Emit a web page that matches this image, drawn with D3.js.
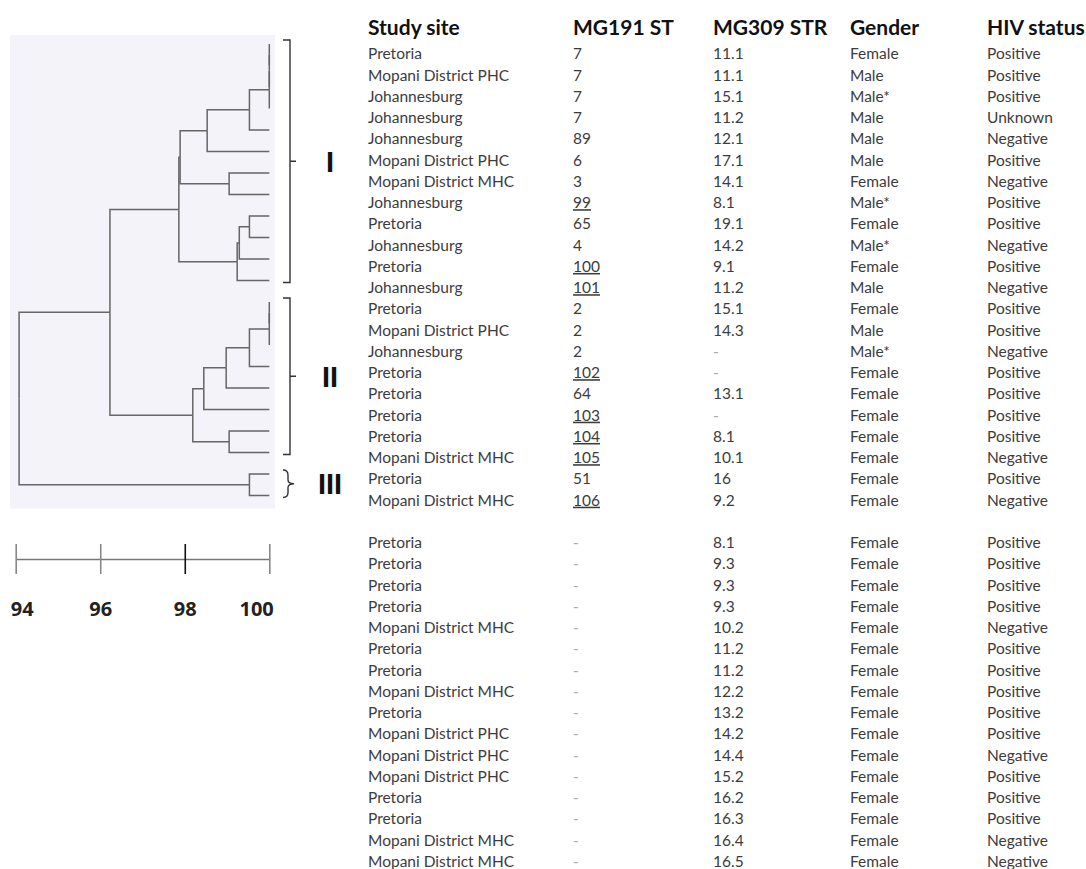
<!DOCTYPE html>
<html>
<head>
<meta charset="utf-8">
<script src="https://cdn.jsdelivr.net/npm/d3@7"></script>
<style>
  body { margin: 0; background: #fff; }
  text { font-family: Lato, "Open Sans", sans-serif; }
</style>
</head>
<body>
<div id="chart"></div>
<script>
// table columns
const headers = ["Study site", "MG191 ST", "MG309 STR", "Gender", "HIV status"];

// first 22 rows are the typed isolates (in the tree), the rest below a blank line
const studySite = [
  "Pretoria", "Mopani District PHC", "Johannesburg", "Johannesburg", "Johannesburg",
  "Mopani District PHC", "Mopani District MHC", "Johannesburg", "Pretoria", "Johannesburg",
  "Pretoria", "Johannesburg", "Pretoria", "Mopani District PHC", "Johannesburg",
  "Pretoria", "Pretoria", "Pretoria", "Pretoria", "Mopani District MHC",
  "Pretoria", "Mopani District MHC",
  "Pretoria", "Pretoria", "Pretoria", "Pretoria", "Mopani District MHC",
  "Pretoria", "Pretoria", "Mopani District MHC", "Pretoria", "Mopani District PHC",
  "Mopani District PHC", "Mopani District PHC", "Pretoria", "Pretoria",
  "Mopani District MHC", "Mopani District MHC"
];
const mg191ST = [
  "7", "7", "7", "7", "89", "6", "3", "99", "65", "4", "100", "101",
  "2", "2", "2", "102", "64", "103", "104", "105", "51", "106",
  "-", "-", "-", "-", "-", "-", "-", "-", "-", "-", "-", "-", "-", "-", "-", "-"
];
const mg309STR = [
  "11.1", "11.1", "15.1", "11.2", "12.1", "17.1", "14.1", "8.1", "19.1", "14.2", "9.1", "11.2",
  "15.1", "14.3", "-", "-", "13.1", "-", "8.1", "10.1", "16", "9.2",
  "8.1", "9.3", "9.3", "9.3", "10.2", "11.2", "11.2", "12.2", "13.2", "14.2",
  "14.4", "15.2", "16.2", "16.3", "16.4", "16.5"
];
const gender = [
  "Female", "Male", "Male*", "Male", "Male", "Male", "Female", "Male*", "Female", "Male*",
  "Female", "Male", "Female", "Male", "Male*", "Female", "Female", "Female", "Female",
  "Female", "Female", "Female",
  "Female", "Female", "Female", "Female", "Female", "Female", "Female", "Female",
  "Female", "Female", "Female", "Female", "Female", "Female", "Female", "Female"
];
const hivStatus = [
  "Positive", "Positive", "Positive", "Unknown", "Negative", "Positive", "Negative", "Positive",
  "Positive", "Negative", "Positive", "Negative", "Positive", "Positive", "Negative", "Positive",
  "Positive", "Positive", "Positive", "Negative", "Positive", "Negative",
  "Positive", "Positive", "Positive", "Positive", "Negative", "Positive", "Positive", "Positive",
  "Positive", "Positive", "Negative", "Positive", "Positive", "Positive", "Negative", "Negative"
];
const novelST = ["99", "100", "101", "102", "103", "104", "105", "106"];
const treeRows = 22;

// dendrogram as merges: [left node, right node, similarity %]; new nodes get ids 22, 23, ...
const merges = [
  [0, 1, 100], [22, 2, 100], [23, 3, 100], [24, 4, 99.53], [25, 5, 98.53],
  [6, 7, 99.05], [26, 27, 97.89], [8, 9, 99.53], [29, 10, 99.29], [30, 11, 99.24],
  [28, 31, 97.86],
  [12, 13, 100], [33, 14, 100], [34, 15, 99.53], [35, 16, 98.98], [36, 17, 98.45],
  [18, 19, 99.05], [37, 38, 98.19],
  [32, 39, 96.23], [20, 21, 99.53], [40, 41, 94.08]
];
const clusterNames = ["I", "II", "III"];
const clusterFirst = [0, 12, 20];
const clusterLast = [11, 19, 21];
const scaleTicks = [94, 96, 98, 100];

const width = 1086, height = 869;
const svg = d3.select("#chart").append("svg")
  .attr("width", width)
  .attr("height", height);

// ---- tree ----
let nodes = [];
for (let i = 0; i < treeRows; i++) nodes.push({ id: i, sim: 100 });
merges.forEach((m, k) => {
  nodes.push({ id: treeRows + k, sim: m[2], children: [nodes[m[0]], nodes[m[1]]] });
});
let root = d3.hierarchy(nodes[nodes.length - 1]);
let leafGap = 21.5;
d3.cluster().nodeSize([leafGap, 1]).separation(() => 1)(root);
let leaves = root.leaves();
let shift = 44 - leaves[0].x;
root.each(d => { d.vy = d.x + shift; });

let x = d3.scaleLinear().domain([94, 100]).range([15.7, 269.3]);

svg.append("rect")
  .attr("x", 10).attr("y", leaves[0].vy - 9)
  .attr("width", 265)
  .attr("height", leaves[leaves.length - 1].vy - leaves[0].vy + 22)
  .attr("fill", "#f3f3f9");

svg.append("g")
  .selectAll("path")
  .data(root.links())
  .join("path")
  .attr("fill", "none")
  .attr("stroke", "#666")
  .attr("stroke-width", 1.5)
  .attr("d", l => "M" + x(l.source.data.sim) + "," + l.source.vy +
                  "V" + l.target.vy + "H" + x(l.target.data.sim));

// cluster brackets
let bx = 290;
clusterNames.forEach((name, c) => {
  let top = leaves[clusterFirst[c]].vy - 4;
  let bot = leaves[clusterLast[c]].vy + 2;
  let mid = (top + bot) / 2;
  let g = svg.append("g");
  if (c < 2) {
    g.append("path")
      .attr("fill", "none").attr("stroke", "#333").attr("stroke-width", 1.4)
      .attr("d", "M" + (bx - 7) + "," + top + "H" + bx + "V" + bot + "H" + (bx - 7) +
                 "M" + bx + "," + mid + "H" + (bx + 6));
  } else {
    g.append("path")
      .attr("fill", "none").attr("stroke", "#333").attr("stroke-width", 1.4)
      .attr("d", "M" + (bx - 7) + "," + top + "Q" + (bx - 2) + "," + top + " " + (bx - 2) + "," + (top + 5) +
                 "V" + (mid - 4) + "Q" + (bx - 2) + "," + mid + " " + (bx + 4) + "," + mid +
                 "Q" + (bx - 2) + "," + mid + " " + (bx - 2) + "," + (mid + 4) +
                 "V" + (bot - 5) + "Q" + (bx - 2) + "," + bot + " " + (bx - 7) + "," + bot);
  }
  g.append("text")
    .attr("x", 330).attr("y", mid)
    .attr("dy", "0.36em")
    .attr("text-anchor", "middle")
    .style("font-family", "'Liberation Sans', Arial, sans-serif")
    .style("font-weight", "bold")
    .style("font-size", "29px")
    .attr("fill", "#111")
    .text(name);
});

// scale bar
let axis = svg.append("g")
  .attr("transform", "translate(0,559)")
  .call(d3.axisBottom(x).tickValues(scaleTicks).tickFormat(d3.format("d"))
    .tickSize(15).tickSizeOuter(0).tickPadding(28));
axis.select(".domain").attr("stroke", "#777").attr("stroke-width", 1.4);
axis.selectAll(".tick line")
  .attr("y1", -15)
  .attr("stroke", d => d === 98 ? "#111" : "#888")
  .attr("stroke-width", 1.6);
axis.selectAll(".tick text")
  .style("font-family", "'Open Sans', sans-serif")
  .style("font-weight", "bold")
  .style("font-size", "20px")
  .attr("fill", "#222")
  .attr("text-anchor", (d, i) => i === scaleTicks.length - 1 ? "end" : "middle")
  .attr("dx", (d, i) => i === 0 ? 6 : i === scaleTicks.length - 1 ? 4 : 0);

// ---- table ----
let colX = d3.scaleOrdinal().domain(headers).range([368, 573, 713, 850, 987]);
let rowY = d3.scaleLinear().domain([0, 38]).range([54, 861.5]);

svg.append("g")
  .selectAll("text")
  .data(headers)
  .join("text")
  .attr("x", d => colX(d))
  .attr("y", 35)
  .style("font-weight", "bold")
  .style("font-size", "21px")
  .attr("fill", "#111")
  .text(d => d);

let rows = studySite.map((s, i) => ({
  row: i < treeRows ? i : i + 1,
  cells: [s, mg191ST[i], mg309STR[i], gender[i], hivStatus[i]]
}));

let rowG = svg.append("g")
  .selectAll("g")
  .data(rows)
  .join("g")
  .attr("transform", d => "translate(0," + rowY(d.row) + ")");

rowG.selectAll("text")
  .data(d => d.cells.map((v, j) => ({ v: v, col: headers[j] })))
  .join("text")
  .attr("x", d => colX(d.col))
  .attr("dy", "0.35em")
  .style("font-size", "15.5px")
  .style("text-decoration", d => d.col === "MG191 ST" && novelST.includes(d.v) ? "underline" : null)
  .attr("fill", d => d.v === "-" ? "#aaa" : "#3c3c3c")
  .text(d => d.v);
</script>
</body>
</html>
